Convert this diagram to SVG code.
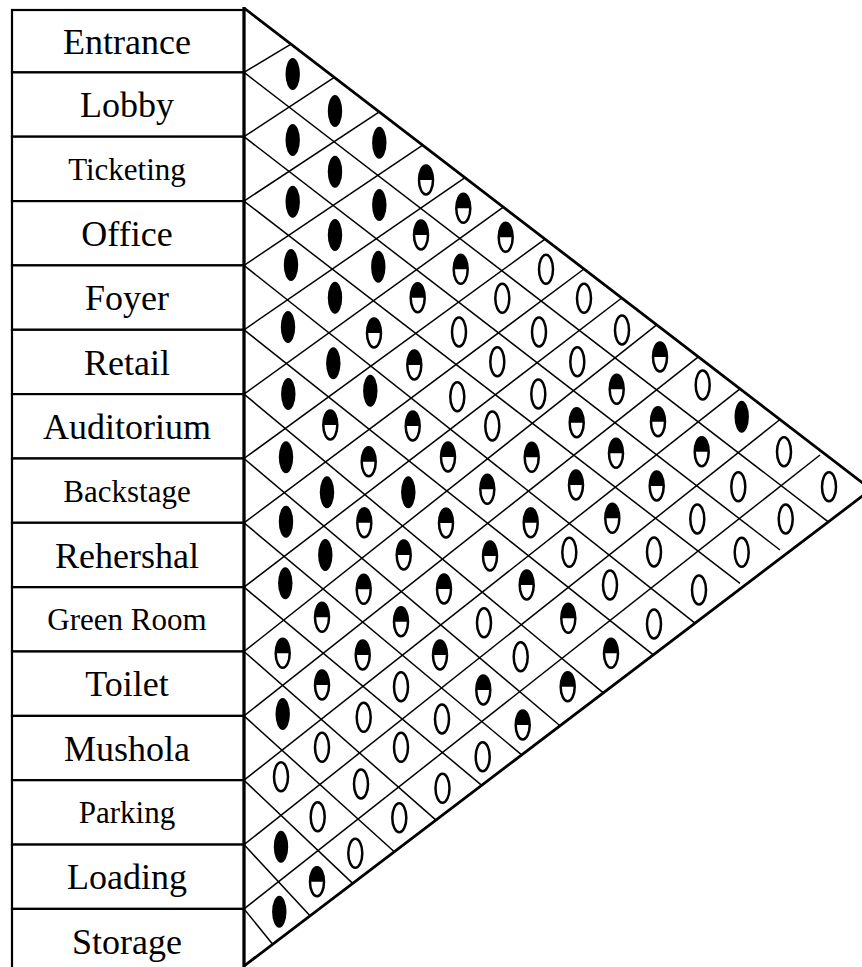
<svg xmlns="http://www.w3.org/2000/svg" xmlns:xlink="http://www.w3.org/1999/xlink" width="862" height="967" viewBox="0 0 862 967">
<style>
.box{fill:#fff;stroke:#000;stroke-width:2.2}
.lbl{font-family:"Liberation Serif","Times New Roman",serif;font-size:36px;text-anchor:middle;fill:#000}
.sm{font-size:31px}
.grid line{stroke:#000;stroke-width:1.5}
.edge{fill:none;stroke:#000;stroke-width:2.8;stroke-linejoin:miter}
</style>
<defs>
<g id="f"><ellipse rx="7.2" ry="16" fill="#000"/></g>
<g id="h"><ellipse rx="7" ry="14.5" fill="#fff" stroke="#000" stroke-width="2.5"/><path d="M-7,0 A7,14.5 0 0 1 7,0 Z" fill="#000"/></g>
<g id="e"><ellipse rx="7" ry="14.5" fill="#fff" stroke="#000" stroke-width="2.5"/></g>
</defs>
<rect width="862" height="967" fill="#fff"/>

<g id="labels">
<g id="n1"><rect class="box" x="12" y="10" width="232" height="62.4"/><text class="lbl" x="127" y="53.5">Entrance</text></g>
<g id="n2"><rect class="box" x="12" y="72.4" width="232" height="64.3"/><text class="lbl" x="127" y="117">Lobby</text></g>
<g id="n3"><rect class="box" x="12" y="136.7" width="232" height="64.4"/><text class="lbl sm" x="127" y="180">Ticketing</text></g>
<g id="n4"><rect class="box" x="12" y="201.1" width="232" height="64.3"/><text class="lbl" x="127" y="245.5">Office</text></g>
<g id="n5"><rect class="box" x="12" y="265.4" width="232" height="64.4"/><text class="lbl" x="127" y="310">Foyer</text></g>
<g id="n6"><rect class="box" x="12" y="329.8" width="232" height="64.3"/><text class="lbl" x="127" y="374.5">Retail</text></g>
<g id="n7"><rect class="box" x="12" y="394.1" width="232" height="64.4"/><text class="lbl" x="127" y="438.8">Auditorium</text></g>
<g id="n8"><rect class="box" x="12" y="458.5" width="232" height="64.3"/><text class="lbl sm" x="127" y="501.5">Backstage</text></g>
<g id="n9"><rect class="box" x="12" y="522.8" width="232" height="64.4"/><text class="lbl" x="127" y="567.5">Rehershal</text></g>
<g id="n10"><rect class="box" x="12" y="587.2" width="232" height="64.3"/><text class="lbl sm" x="127" y="630.3">Green Room</text></g>
<g id="n11"><rect class="box" x="12" y="651.5" width="232" height="64.4"/><text class="lbl" x="127" y="696.2">Toilet</text></g>
<g id="n12"><rect class="box" x="12" y="715.9" width="232" height="64.3"/><text class="lbl" x="127" y="760.5">Mushola</text></g>
<g id="n13"><rect class="box" x="12" y="780.2" width="232" height="64.4"/><text class="lbl sm" x="127" y="823.4">Parking</text></g>
<g id="n14"><rect class="box" x="12" y="844.6" width="232" height="64.3"/><text class="lbl" x="127" y="889.2">Loading</text></g>
<g id="n15"><rect class="box" x="12" y="908.9" width="232" height="64.4"/><text class="lbl" x="127" y="953.6">Storage</text></g>
</g>

<g id="connectors" class="grid">
<line x1="244" y1="72.4" x2="291" y2="44.1"/>
<line x1="244" y1="136.7" x2="334.3" y2="77.3"/>
<line x1="244" y1="201.1" x2="379.3" y2="111.9"/>
<line x1="244" y1="265.4" x2="422.7" y2="145.2"/>
<line x1="244" y1="329.8" x2="465" y2="177.7"/>
<line x1="244" y1="394.1" x2="503.3" y2="207.1"/>
<line x1="244" y1="458.5" x2="545" y2="239.1"/>
<line x1="244" y1="522.8" x2="584" y2="269"/>
<line x1="244" y1="587.2" x2="621.7" y2="298"/>
<line x1="244" y1="651.5" x2="656.7" y2="324.8"/>
<line x1="244" y1="715.9" x2="698.3" y2="356.8"/>
<line x1="244" y1="780.2" x2="740" y2="388.8"/>
<line x1="244" y1="844.6" x2="780" y2="419.5"/>
<line x1="244" y1="908.9" x2="820" y2="455"/>
<line x1="244" y1="72.4" x2="828.3" y2="521.9"/>
<line x1="244" y1="136.7" x2="780" y2="550"/>
<line x1="244" y1="201.1" x2="740" y2="583.3"/>
<line x1="244" y1="265.4" x2="695" y2="623.2"/>
<line x1="244" y1="329.8" x2="653.3" y2="654.9"/>
<line x1="244" y1="394.1" x2="603.3" y2="692.9"/>
<line x1="244" y1="458.5" x2="560" y2="725.8"/>
<line x1="244" y1="522.8" x2="521.7" y2="754.9"/>
<line x1="244" y1="587.2" x2="481.7" y2="785.3"/>
<line x1="244" y1="651.5" x2="436" y2="820.1"/>
<line x1="244" y1="715.9" x2="394.3" y2="851.8"/>
<line x1="244" y1="780.2" x2="352.7" y2="883.4"/>
<line x1="244" y1="844.6" x2="310" y2="915.8"/>
<line x1="244" y1="908.9" x2="272.7" y2="944.2"/>
<path class="edge" d="M244,8 L871.1,489.4 L244,966"/>
<line x1="244" y1="7" x2="244" y2="967" style="stroke-width:3.2"/>
</g>

<g id="cells">
<use href="#f" x="292.7" y="74"/>
<use href="#f" x="335" y="111"/>
<use href="#f" x="292.7" y="140"/><use href="#f" x="379.3" y="142.7"/>
<use href="#f" x="335" y="171.7"/><use href="#h" x="426" y="180"/>
<use href="#f" x="292.7" y="201.7"/><use href="#f" x="379.3" y="205"/><use href="#h" x="463.3" y="208.3"/>
<use href="#f" x="335" y="235"/><use href="#h" x="421" y="235"/><use href="#h" x="505.7" y="237.3"/>
<use href="#f" x="291" y="265"/><use href="#f" x="378.3" y="266.7"/><use href="#h" x="460.7" y="269.3"/><use href="#e" x="546" y="269.3"/>
<use href="#f" x="335" y="297.7"/><use href="#h" x="417.7" y="297.7"/><use href="#e" x="502.3" y="298.3"/><use href="#e" x="584" y="298.3"/>
<use href="#f" x="288" y="327"/><use href="#h" x="374" y="333"/><use href="#e" x="459" y="332"/><use href="#e" x="539" y="332"/><use href="#e" x="622" y="330"/>
<use href="#f" x="333.3" y="363.3"/><use href="#h" x="414.3" y="365"/><use href="#e" x="497.3" y="361.7"/><use href="#e" x="577.3" y="361.7"/><use href="#h" x="660" y="357"/>
<use href="#f" x="288.3" y="394"/><use href="#f" x="370.3" y="390.7"/><use href="#e" x="457.3" y="396.7"/><use href="#e" x="538.3" y="394"/><use href="#h" x="616.7" y="389.3"/><use href="#e" x="702.7" y="385"/>
<use href="#h" x="330.3" y="425"/><use href="#h" x="412.7" y="426"/><use href="#e" x="492.3" y="426"/><use href="#h" x="576.7" y="422.7"/><use href="#h" x="658" y="421.7"/><use href="#f" x="741.7" y="416.7"/>
<use href="#f" x="286" y="457.3"/><use href="#h" x="368.7" y="461.7"/><use href="#h" x="448" y="457"/><use href="#h" x="531.7" y="457.3"/><use href="#h" x="616" y="453.3"/><use href="#h" x="701.7" y="451.7"/><use href="#e" x="784" y="451.7"/>
<use href="#f" x="327" y="492.3"/><use href="#f" x="408.3" y="492.3"/><use href="#h" x="487.3" y="489.3"/><use href="#h" x="576" y="485"/><use href="#h" x="656.7" y="486"/><use href="#e" x="738.3" y="486.7"/><use href="#e" x="829" y="486.7"/>
<use href="#f" x="286" y="521.7"/><use href="#h" x="364.3" y="522.7"/><use href="#h" x="446" y="523"/><use href="#h" x="530.7" y="522.7"/><use href="#h" x="612.3" y="518.3"/><use href="#e" x="697.3" y="519"/><use href="#e" x="785.7" y="519"/>
<use href="#f" x="325.3" y="555"/><use href="#h" x="403.7" y="555"/><use href="#h" x="490" y="556"/><use href="#e" x="569.3" y="552.3"/><use href="#e" x="654" y="552"/><use href="#e" x="741.7" y="552.3"/>
<use href="#f" x="285.3" y="583.3"/><use href="#h" x="363.7" y="589.3"/><use href="#h" x="444" y="589"/><use href="#h" x="526.7" y="585"/><use href="#e" x="610" y="585"/><use href="#e" x="699" y="590"/>
<use href="#h" x="322" y="617.3"/><use href="#h" x="401" y="621.7"/><use href="#e" x="484" y="622.7"/><use href="#h" x="568.3" y="618.3"/><use href="#e" x="654" y="624"/>
<use href="#h" x="282.7" y="653.3"/><use href="#h" x="362.7" y="655"/><use href="#h" x="440" y="655"/><use href="#e" x="520.7" y="656.7"/><use href="#h" x="611" y="653.3"/>
<use href="#h" x="322" y="685"/><use href="#e" x="401" y="686.7"/><use href="#h" x="483.3" y="690"/><use href="#h" x="567.7" y="686.7"/>
<use href="#f" x="282.7" y="714"/><use href="#e" x="363.7" y="717.3"/><use href="#e" x="442" y="719"/><use href="#h" x="522.7" y="725"/>
<use href="#e" x="322" y="747.3"/><use href="#e" x="401" y="747.3"/><use href="#e" x="482.7" y="756.7"/>
<use href="#e" x="281" y="776.7"/><use href="#e" x="361" y="784"/><use href="#e" x="442.5" y="788.3"/>
<use href="#e" x="317.7" y="816.7"/><use href="#e" x="399.3" y="817.7"/>
<use href="#f" x="281" y="846.7"/><use href="#e" x="355.3" y="853.3"/>
<use href="#h" x="317" y="881.7"/>
<use href="#f" x="279.3" y="911.7"/>
</g>
</svg>
